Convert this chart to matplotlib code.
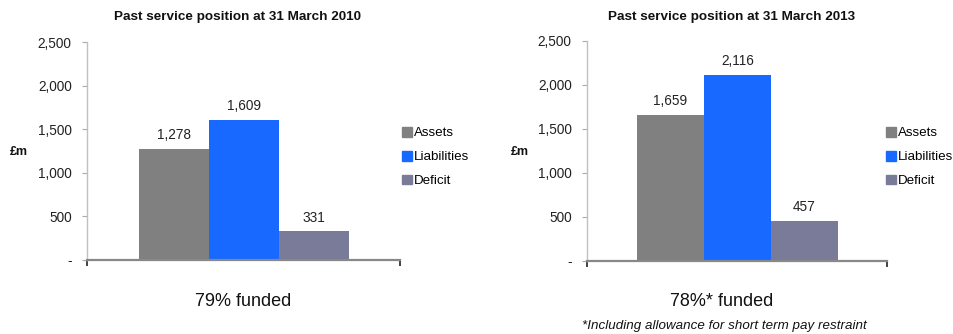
import matplotlib.pyplot as plt

plt.rcParams['font.family'] = ['Liberation Sans', 'DejaVu Sans']

# Data
categories = ['Assets', 'Liabilities', 'Deficit']
values_2010 = [1278, 1609, 331]
values_2013 = [1659, 2116, 457]
titles = ['Past service position at 31 March 2010', 'Past service position at 31 March 2013']
funded_labels = ['79% funded', '78%* funded']
footnote = '*Including allowance for short term pay restraint'
yticks = [0, 500, 1000, 1500, 2000, 2500]
ytick_labels = ['-', '500', '1,000', '1,500', '2,000', '2,500']

colors = ['#808080', '#1769ff', '#797b98']

fig = plt.figure(figsize=(9.54, 3.34), dpi=100)

# axes rectangles in figure fractions [left, bottom, width, height]
rects = [[87 / 954, 74 / 334, 313 / 954, 218 / 334],
         [587 / 954, 73 / 334, 300 / 954, 220 / 334]]
title_x = [238 / 954, 732 / 954]
funded_x = [243 / 954, 722 / 954]
ylab_x = [19 / 954, 520 / 954]
legend_x = [402 / 954, 886 / 954]

for i, vals in enumerate([values_2010, values_2013]):
    ax = fig.add_axes(rects[i])
    xs = range(len(categories))
    ax.bar(xs, vals, width=1.0, color=colors, label=categories)
    for x, v in zip(xs, vals):
        ax.text(x, v + 75, f'{v:,}', ha='center', va='bottom', fontsize=9.8, color='#222222')

    ax.set_xlim(-1.245, 3.23)
    ax.set_ylim(0, 2500)
    ax.set_yticks(yticks)
    ax.set_yticklabels(ytick_labels, fontsize=9.8, color='#222222')
    ax.tick_params(axis='y', length=3.5, width=0.8, color='#aaaaaa', pad=7.5)
    ax.set_xticks([-1.245, 3.23])
    ax.set_xticklabels([])
    ax.tick_params(axis='x', length=4, width=1.2, color='#222222', direction='out')

    for s in ['top', 'right']:
        ax.spines[s].set_visible(False)
    ax.spines['left'].set_color('#c0c0c0')
    ax.spines['left'].set_linewidth(1.0)
    ax.spines['bottom'].set_color('#888888')
    ax.spines['bottom'].set_linewidth(1.6)

    handles = [plt.Rectangle((0, 0), 1, 1, color=c) for c in colors]
    fig.legend(handles, categories, loc='center left',
               bbox_to_anchor=(legend_x[i], 1 - 157 / 334), frameon=False,
               fontsize=9.6, handlelength=0.75, handleheight=0.75,
               handletextpad=0.15, labelspacing=0.85, borderpad=0, borderaxespad=0)

    fig.text(title_x[i], 1 - 17 / 334, titles[i], ha='center', va='center',
             fontsize=9.7, fontweight='bold', color='#111111')
    fig.text(ylab_x[i], 1 - 152 / 334, '£m', ha='center', va='center',
             fontsize=9, fontweight='bold', color='#111111')
    fig.text(funded_x[i], 1 - 302 / 334, funded_labels[i], ha='center', va='center',
             fontsize=13, color='#111111')

fig.text(724 / 954, 1 - 326 / 334, footnote, ha='center', va='center',
         fontsize=9.6, style='italic', color='#111111')

fig.savefig('out.png', dpi=100)
